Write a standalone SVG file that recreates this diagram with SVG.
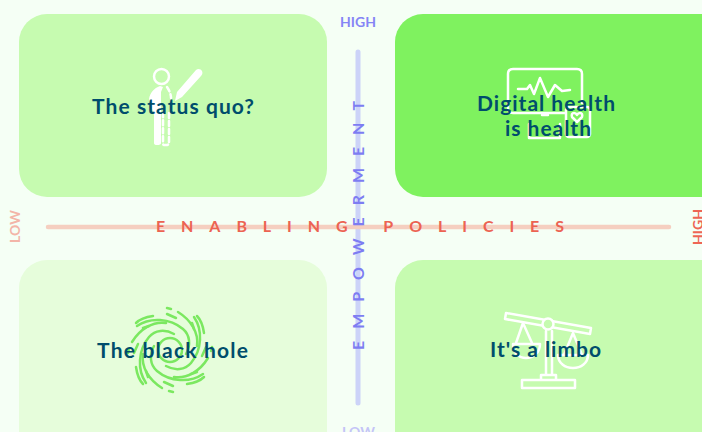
<svg xmlns="http://www.w3.org/2000/svg" width="702" height="432" viewBox="0 0 702 432">
<defs>
<style>
.t{font-family:"Lato","Open Sans","Liberation Sans",sans-serif;font-weight:700;font-size:21px;fill:#004d6c}
.a{font-family:"Lato","Open Sans","Liberation Sans",sans-serif;font-weight:700;font-size:16px}
.l{font-family:"Lato","Open Sans","Liberation Sans",sans-serif;font-weight:700;font-size:14px}
.w{fill:none;stroke:#fff;stroke-width:2.5;stroke-linecap:round;stroke-linejoin:round}
.g{fill:none;stroke:#7be860;stroke-width:2.5;stroke-linecap:round}
</style>
<g id="arm">
<path class="g" d="M178 312C191 320 199 333 197 346"/>
<path class="g" d="M137 326C150 317 170 318 183 329C190 335 191 345 186 354"/>
<path class="g" d="M167 308L171 309"/>
<path class="g" d="M167 314L176 318"/>
<path class="g" d="M197 316C201 320 203 326 204 333"/>
<path class="g" d="M143 328L149 326"/>
</g>
</defs>
<rect width="702" height="432" fill="#f5fff5"/>
<g id="quadrant-status-quo">
<rect x="19" y="14" width="308" height="183" rx="28" fill="#c6fbb0"/>
<g>
<circle cx="161.5" cy="76.5" r="7.5" class="w"/>
<path d="M160 86C154 88 150 93 149 99L154 115V143Q154 145 157 145Q161 145 161 143V92L163 87Z" fill="#fff"/>
<path class="w" stroke-dasharray="5 3" d="M167 87C169 90 171 94 171 98M169 113V143Q169 145 166 145H164Q163 145 163 143V113"/>
<path d="M196 70C198 68 201 69 202 71C203 73 202 75 201 76L182 97L175 101L177 92Z" fill="#fff"/>
</g>
<text class="t" x="173" y="114" text-anchor="middle" textLength="162">The status quo?</text>
</g>
<g id="quadrant-digital-health">
<rect x="395" y="14" width="340" height="183" rx="28" fill="#7ff25f"/>
<g>
<path class="w" d="M565 113H513Q508 113 508 108V74Q508 69 513 69H577Q582 69 582 74V103"/>
<path class="w" d="M518 89H527L530 85L534 94L540 78L548 97L555 85L562 91L570 90"/>
<path class="w" d="M542 115H548M529 124V138H560V124"/>
<rect class="w" x="566" y="107" width="24" height="30" rx="3"/>
<path class="w" d="M577 122L572 117Q571 113 574 113Q576 113 577 115Q578 113 580 113Q583 113 582 117Z"/>
</g>
<text class="t" x="546" y="111" text-anchor="middle" textLength="138">Digital health</text>
<text class="t" x="548" y="136" text-anchor="middle" textLength="86">is health</text>
</g>
<g id="quadrant-black-hole">
<rect x="19" y="260" width="308" height="200" rx="28" fill="#e6fddb"/>
<g>
<circle class="g" cx="170" cy="350" r="12"/>
<use href="#arm"/>
<use href="#arm" transform="rotate(90 170 350)"/>
<use href="#arm" transform="rotate(180 170 350)"/>
<use href="#arm" transform="rotate(270 170 350)"/>
</g>
<text class="t" x="172.500" y="358" text-anchor="middle" textLength="151">The black hole</text>
</g>
<g id="quadrant-limbo">
<rect x="395" y="260" width="340" height="200" rx="28" fill="#c6fbb0"/>
<g>
<path class="w" d="M506 313L591 328L590 334L505 319Z"/>
<path class="w" d="M546 331V375M552 331V375M541 375H556V380H541ZM522 380H575V388H522Z"/>
<circle cx="548" cy="324" r="5.500" fill="#c6fbb0" stroke="#fff" stroke-width="2.500"/>
<path class="w" d="M523 323L516 343M523 323L532 343M513 344H540C540 353 533 358 526 358C519 358 513 353 513 344Z"/>
<path class="w" d="M573 333L564 355M573 333L582 355M558 355H588C588 363 581 368 573 368C565 368 558 363 558 355Z"/>
</g>
<text class="t" x="545.500" y="357" text-anchor="middle" textLength="111">It's a limbo</text>
</g>
<g id="connectors" fill="none" stroke-linecap="round">
<path d="M358 52V403" stroke="#ccd3f8" stroke-width="5"/>
<path d="M48 227H669" stroke="#f5cfc0" stroke-width="4.500"/>
</g>
<g id="axis-labels">
<text class="a" x="156" y="232" fill="#ec6352" textLength="408">ENABLING  POLICIES</text>
<text class="a" transform="translate(364 350) rotate(-90)" fill="#7d7df2" textLength="249">EMPOWERMENT</text>
<text class="l" x="358" y="27" text-anchor="middle" fill="#8585f5" textLength="36">HIGH</text>
<text class="l" x="358.500" y="437" text-anchor="middle" fill="#c4c4f7" textLength="33">LOW</text>
<text class="l" transform="translate(20 243) rotate(-90)" fill="#f3b5a8" textLength="33">LOW</text>
<text class="l" transform="translate(703 245) rotate(-90)" fill="#ee6655" textLength="36">HIGH</text>
</g>
</svg>
